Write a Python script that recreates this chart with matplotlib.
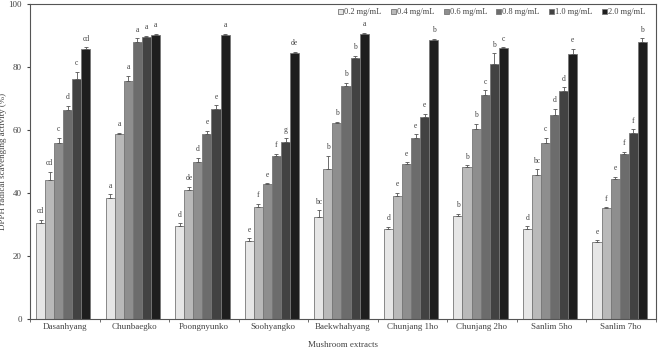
import numpy as np
import matplotlib.pyplot as plt

plt.rcParams['font.family'] = ['Liberation Serif', 'DejaVu Serif']

groups = ['Dasanhyang', 'Chunbaegko', 'Poongnyunko', 'Soohyangko', 'Baekwhahyang',
          'Chunjang 1ho', 'Chunjang 2ho', 'Sanlim 5ho', 'Sanlim 7ho']
conc = ['0.2 mg/mL', '0.4 mg/mL', '0.6 mg/mL', '0.8 mg/mL', '1.0 mg/mL', '2.0 mg/mL']

# rows = concentration, cols = mushroom
vals = np.array([
    [30.4, 38.3, 29.5, 24.7, 32.2, 28.5, 32.7, 28.6, 24.3],
    [44.1, 58.8, 41.0, 35.4, 47.7, 38.9, 48.3, 45.8, 35.3],
    [55.8, 75.7, 49.8, 42.9, 62.2, 49.3, 60.3, 55.9, 44.4],
    [66.2, 88.1, 58.7, 51.8, 73.9, 57.4, 71.2, 64.8, 52.4],
    [76.2, 89.6, 66.8, 56.2, 83.0, 64.1, 81.1, 72.3, 59.1],
    [85.6, 90.2, 90.2, 84.3, 90.6, 88.7, 85.9, 84.2, 87.9],
])
errs = np.array([
    [1.0, 1.3, 0.8, 0.8, 2.2, 0.8, 0.7, 0.8, 0.7],
    [2.6, 0.3, 0.9, 1.1, 4.1, 1.1, 0.5, 1.7, 0.2],
    [1.7, 1.6, 1.4, 0.2, 0.4, 0.5, 1.7, 1.6, 0.7],
    [1.5, 1.1, 1.1, 0.6, 1.1, 1.3, 1.4, 2.0, 0.6],
    [2.3, 0.3, 1.1, 1.2, 0.6, 1.1, 3.2, 1.2, 1.1],
    [0.7, 0.3, 0.4, 0.6, 0.3, 0.3, 0.4, 1.6, 1.2],
])
letters = [
    ['cd', 'a', 'd', 'e', 'bc', 'd', 'b', 'd', 'e'],
    ['cd', 'a', 'de', 'f', 'b', 'e', 'b', 'bc', 'f'],
    ['c', 'a', 'd', 'e', 'b', 'e', 'b', 'c', 'e'],
    ['d', 'a', 'e', 'f', 'b', 'e', 'c', 'd', 'f'],
    ['c', 'a', 'e', 'g', 'b', 'e', 'b', 'd', 'f'],
    ['cd', 'a', 'a', 'de', 'a', 'b', 'c', 'e', 'b'],
]

colors = ['#e6e6e6', '#b9b9b9', '#8e8e8e', '#6c6c6c', '#424242', '#1e1e1e']
edge = '#777777'
txt = '#444444'

fig = plt.figure(figsize=(6.58, 3.48), dpi=100)
ax = fig.add_axes([0.0456, 0.0842, 0.951, 0.904])

x = np.arange(len(groups))
w = 0.13
for i in range(len(conc)):
    xs = x + (i - 2.5) * w - 0.02
    ax.bar(xs, vals[i], w, color=colors[i], edgecolor=edge, linewidth=0.6,
           label=conc[i], zorder=2)
    ax.errorbar(xs, vals[i], yerr=[np.zeros(len(groups)), errs[i]], fmt='none',
                ecolor='#555555', elinewidth=0.6, capsize=1.5, capthick=0.6, zorder=3)
    for j in range(len(groups)):
        ax.text(xs[j], vals[i][j] + errs[i][j] + 2.7, letters[i][j], ha='center',
                va='center', fontsize=5.5, color=txt)

ax.set_xlim(-0.5, len(groups) - 0.5)
ax.set_ylim(0, 100)
ax.set_yticks(range(0, 101, 20))
ax.set_xticks(x)
ax.set_xticklabels(groups)
ax.set_xticks(np.arange(len(groups) + 1) - 0.5, minor=True)
ax.tick_params(axis='x', which='major', length=0, labelsize=6.5, colors=txt, pad=3)
ax.tick_params(axis='x', which='minor', length=2, direction='out', color='#555555')
ax.tick_params(axis='y', labelsize=6.5, colors=txt, length=2.5, direction='out')
for s in ax.spines.values():
    s.set_color('#555555')
    s.set_linewidth(0.8)

ax.set_ylabel('DPPH radical scavenging activity (%)', fontsize=6.5, color=txt)
ax.yaxis.set_label_coords(-0.036, 0.5)
ax.set_xlabel('Mushroom extracts', fontsize=6.5, color=txt, labelpad=7)

ax.legend(loc='upper right', ncol=6, frameon=False, fontsize=6, handlelength=0.6,
          handleheight=0.6, handletextpad=0.1, columnspacing=1.15,
          bbox_to_anchor=(0.995, 1.01), labelcolor=txt)

fig.savefig('out.png', dpi=100)
